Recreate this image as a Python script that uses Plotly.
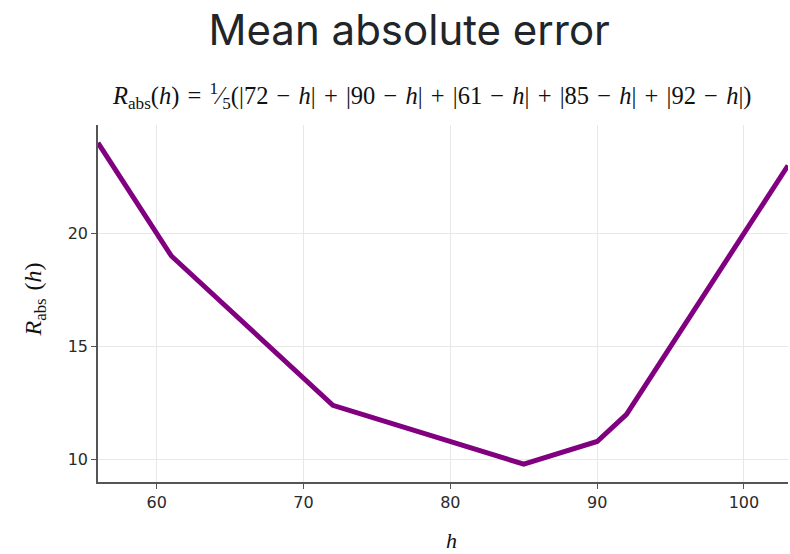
import plotly.graph_objects as go

# Breakpoints of R_abs(h) = mean |y_i - h| for y = 72, 90, 61, 85, 92
h_values = [56, 61, 72, 85, 90, 92, 103]
r_abs = [24.0, 19.0, 12.4, 9.8, 10.8, 12.0, 23.0]
x_ticks = [60, 70, 80, 90, 100]
y_ticks = [10, 15, 20]

fig = go.Figure()
fig.add_trace(go.Scatter(
    x=h_values, y=r_abs, mode="lines",
    line=dict(color="#800080", width=5),
    showlegend=False, hoverinfo="skip",
))

serif = "Liberation Serif, Times New Roman, serif"
axis_common = dict(
    showline=True, linecolor="#555555", linewidth=1.5,
    ticks="outside", ticklen=5, tickcolor="#555555", tickwidth=1,
    showgrid=True, gridcolor="#e8e8e8", gridwidth=1,
    zeroline=False,
    tickfont=dict(family="DejaVu Sans, Verdana, sans-serif", size=16, color="#2a2a2a"),
)

sp = "\u2004"
minus = sp + "−" + sp
plus = sp + "+" + sp
sub_text = (
    "<i>R</i><sub>abs</sub>(<i>h</i>)" + sp + "=" + sp + "<sup>1</sup>⁄<sub>5</sub>(" +
    plus.join(f"|{v}{minus}<i>h</i>|" for v in [72, 90, 61, 85, 92]) + ")"
)
sp_y = "\u2004"

fig.update_layout(
    width=790, height=554,
    margin=dict(l=98, r=2, t=125, b=72),
    paper_bgcolor="white", plot_bgcolor="white",
    title=dict(
        text="Mean absolute error",
        font=dict(family="Inter, sans-serif", size=42, color="#212529"),
        x=0.518, xanchor="center", y=0.918, yanchor="bottom",
    ),
    xaxis=dict(range=[56, 103], tickvals=x_ticks, **axis_common),
    yaxis=dict(range=[9.01, 24.79], tickvals=y_ticks, **axis_common),
    annotations=[
        dict(
            text=sub_text,
            xref="paper", yref="paper", x=0.483, y=1.027,
            xanchor="center", yanchor="bottom", showarrow=False,
            font=dict(family=serif, size=24.5, color="#111111"),
        ),
        dict(
            text="<i>h</i>", xref="paper", yref="paper", x=0.513, y=-0.163,
            xanchor="center", yanchor="middle", showarrow=False,
            font=dict(family=serif, size=22, color="#111111"),
        ),
        dict(
            text="<i>R</i><sub>abs</sub>" + sp_y + "(<i>h</i>)", xref="paper", yref="paper",
            x=-0.092, y=0.51, xanchor="center", yanchor="middle", showarrow=False,
            textangle=-90,
            font=dict(family=serif, size=24, color="#111111"),
        ),
    ],
)

fig.write_html("out.html")
